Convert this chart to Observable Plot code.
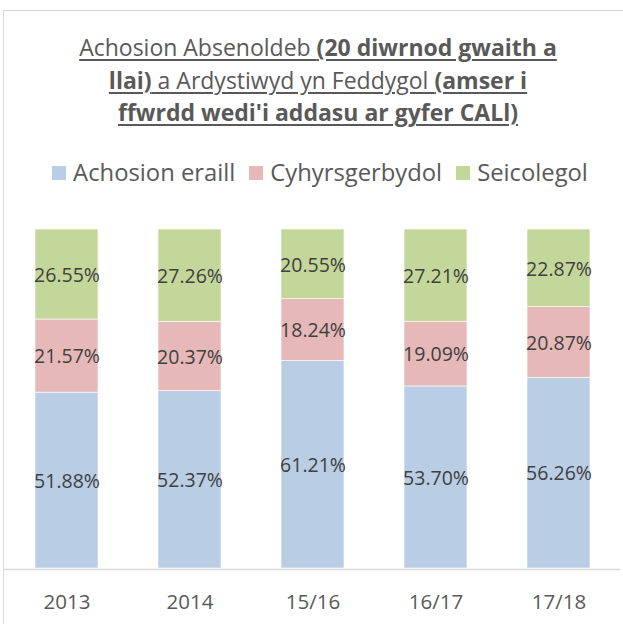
<!DOCTYPE html>
<html>
<head>
<meta charset="utf-8">
<script src="https://cdn.jsdelivr.net/npm/d3@7"></script>
<script src="https://cdn.jsdelivr.net/npm/@observablehq/plot@0.6"></script>
<style>
  html, body { margin: 0; padding: 0; background: #fff; }
  body { width: 623px; height: 624px; overflow: hidden; position: relative; font-family: "Open Sans", sans-serif; }
  #frame { position: absolute; left: 3px; top: 10px; width: 640px; height: 640px; border: 1.5px solid #d9d9d9; box-sizing: border-box; }
  #title { position: absolute; left: 3px; top: 31px; width: 630px; text-align: center; color: #595959; font-size: 23px; line-height: 32.5px; }
  #title .line { text-decoration: underline; text-decoration-thickness: 1.5px; text-underline-offset: 3px; }
  #legend { position: absolute; left: 3px; top: 156px; width: 634px; text-align: center; color: #595959; font-size: 23.8px; white-space: nowrap; }
  #legend .item { display: inline-block; margin: 0 7px; }
  #legend .sw { display: inline-block; width: 14px; height: 14px; margin-right: 7px; vertical-align: 1px; }
  #chart { position: absolute; left: 0; top: 200px; }
</style>
</head>
<body>
<div id="frame"></div>
<div id="title"></div>
<div id="legend"></div>
<div id="chart"></div>
<script>
const categories = ["2013", "2014", "15/16", "16/17", "17/18"];
const seriesNames = ["Achosion eraill", "Cyhyrsgerbydol", "Seicolegol"];
const achosionEraill = [51.88, 52.37, 61.21, 53.70, 56.26];
const cyhyrsgerbydol = [21.57, 20.37, 18.24, 19.09, 20.87];
const seicolegol = [26.55, 27.26, 20.55, 27.21, 22.87];
const colors = ["#b9cde5", "#e6b9b8", "#c4d79b"];
const titleLines = [
  [["Achosion Absenoldeb ", false], ["(20 diwrnod gwaith a", true]],
  [["llai)", true], [" a Ardystiwyd yn Feddygol ", false], ["(amser i", true]],
  [["ffwrdd wedi'i addasu ar gyfer CALl)", true]]
];

const seriesValues = [achosionEraill, cyhyrsgerbydol, seicolegol];
const data = [];
categories.forEach((c, i) => {
  seriesNames.forEach((s, j) => {
    data.push({category: c, series: s, value: seriesValues[j][i]});
  });
});

// Title
const title = document.getElementById("title");
titleLines.forEach(line => {
  const div = document.createElement("div");
  const span = document.createElement("span");
  span.className = "line";
  line.forEach(([t, b]) => {
    const s = document.createElement("span");
    s.textContent = t;
    if (b) s.style.fontWeight = "700";
    span.appendChild(s);
  });
  div.appendChild(span);
  title.appendChild(div);
});

// Legend
const legend = document.getElementById("legend");
seriesNames.forEach((s, j) => {
  const item = document.createElement("span");
  item.className = "item";
  const sw = document.createElement("span");
  sw.className = "sw";
  sw.style.background = colors[j];
  item.appendChild(sw);
  item.appendChild(document.createTextNode(s));
  legend.appendChild(item);
});

const chart = Plot.plot({
  width: 623,
  height: 424,
  marginLeft: 4,
  marginRight: 3,
  marginTop: 29,
  marginBottom: 56,
  style: {fontFamily: "Open Sans, sans-serif", background: "transparent"},
  x: {domain: categories, paddingInner: 0.49, paddingOuter: 0.245, label: null},
  y: {domain: [0, 100], axis: null},
  color: {domain: seriesNames, range: colors},
  marks: [
    Plot.barY(data, {x: "category", y: "value", fill: "series", order: seriesNames, inset: 0, stroke: "white", strokeWidth: 0.6}),
    Plot.text(data, Plot.stackY({x: "category", y: "value", z: "series", order: seriesNames, text: d => d.value.toFixed(2) + "%", fill: "#404040", fontSize: 19.5, dy: 1})),
    Plot.ruleY([0], {stroke: "#d9d9d9", strokeWidth: 1.5, dy: 1}),
    Plot.axisX({tickSize: 0, tickPadding: 26, fontSize: 20.5, color: "#595959", label: null})
  ]
});
document.getElementById("chart").appendChild(chart);
</script>
</body>
</html>
